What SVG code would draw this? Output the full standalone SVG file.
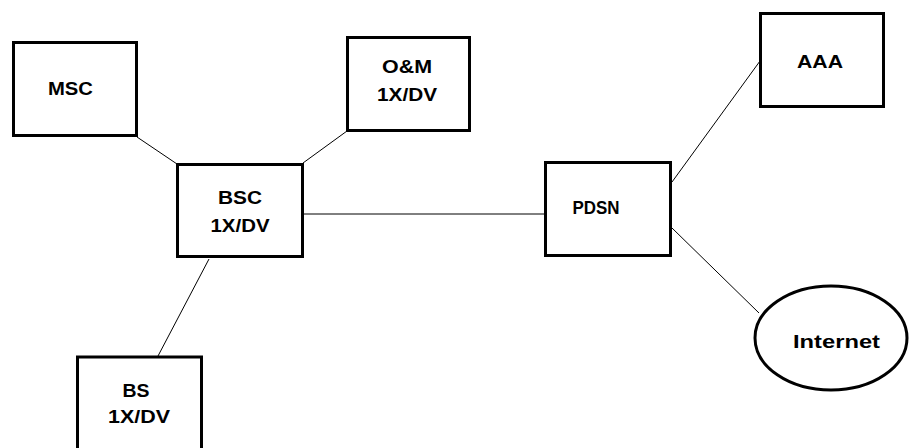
<svg xmlns="http://www.w3.org/2000/svg" width="909" height="448" viewBox="0 0 909 448">
<style>
.box{fill:#fff;stroke:#000;stroke-width:3}
.ln{stroke:#000;stroke-width:1;fill:none}
.t{font-family:"Liberation Sans",Arial,sans-serif;font-weight:bold;font-size:19px;fill:#000;text-anchor:middle}
</style>
<rect width="909" height="448" fill="#fff"/>
<g id="connectors">
<line class="ln" x1="137" y1="137" x2="177" y2="164"/>
<line class="ln" x1="303" y1="163" x2="347" y2="131"/>
<line class="ln" x1="304" y1="214" x2="545" y2="214"/>
<line class="ln" x1="209" y1="259" x2="158" y2="356"/>
<line class="ln" x1="672" y1="182" x2="760" y2="61"/>
<line class="ln" x1="672" y1="228" x2="759" y2="313"/>
</g>
<g id="msc"><rect class="box" x="13.5" y="42.5" width="123" height="93"/><text class="t" x="70.5" y="95" textLength="45" lengthAdjust="spacingAndGlyphs">MSC</text></g>
<g id="bsc"><rect class="box" x="177.5" y="164.5" width="125" height="92"/><text class="t" x="240" y="204" textLength="44" lengthAdjust="spacingAndGlyphs">BSC</text><text class="t" x="240" y="232" textLength="59" lengthAdjust="spacingAndGlyphs">1X/DV</text></g>
<g id="om"><rect class="box" x="347.5" y="37.5" width="122" height="93"/><text class="t" x="407" y="73" textLength="50" lengthAdjust="spacingAndGlyphs">O&amp;M</text><text class="t" x="407" y="101" textLength="60" lengthAdjust="spacingAndGlyphs">1X/DV</text></g>
<g id="aaa"><rect class="box" x="760.5" y="13.5" width="123" height="93"/><text class="t" x="820" y="68" textLength="46" lengthAdjust="spacingAndGlyphs">AAA</text></g>
<g id="pdsn"><rect class="box" x="545.5" y="162.5" width="125" height="93"/><text class="t" x="596" y="214" textLength="47" lengthAdjust="spacingAndGlyphs">PDSN</text></g>
<g id="bs"><rect class="box" x="77.5" y="357" width="124" height="100"/><text class="t" x="136" y="397" textLength="27" lengthAdjust="spacingAndGlyphs">BS</text><text class="t" x="139" y="423" textLength="62" lengthAdjust="spacingAndGlyphs">1X/DV</text></g>
<g id="internet"><ellipse class="box" cx="831" cy="338" rx="76" ry="52"/><text class="t" x="836.5" y="348" textLength="87" lengthAdjust="spacingAndGlyphs">Internet</text></g>
</svg>
